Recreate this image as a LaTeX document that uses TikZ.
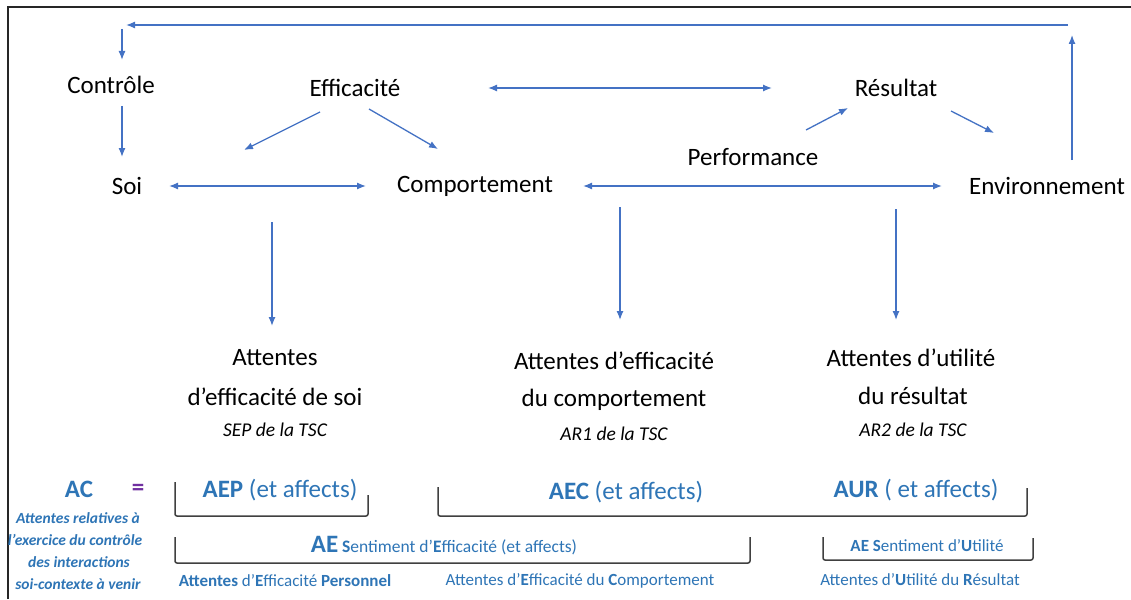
\documentclass[tikz,border=0pt]{standalone}
\usepackage{fontspec}
\setmainfont{Carlito}
\usetikzlibrary{arrows.meta}
\definecolor{arrowblue}{HTML}{4472C4}
\definecolor{txtblue}{HTML}{2E75B6}
\definecolor{eqpurple}{HTML}{7030A0}
\definecolor{brkgray}{HTML}{404040}
\begin{document}
\begin{tikzpicture}[x=1pt,y=-1pt,
  lbl/.style={inner sep=0pt, text=black, font=\fontsize{25}{30}\selectfont},
  sub/.style={inner sep=0pt, text=black, font=\fontsize{19.5}{23}\selectfont\itshape},
  arr/.style={draw=arrowblue, line width=1.3pt, -{Latex[length=9pt,width=7pt]}},
  darr/.style={draw=arrowblue, line width=1.3pt, {Latex[length=9pt,width=7pt]}-{Latex[length=9pt,width=7pt]}},
  brk/.style={draw=brkgray, line width=1.5pt, rounded corners=2pt},
  big/.style={inner sep=0pt, text=txtblue, font=\fontsize{25}{30}\selectfont},
  small/.style={inner sep=0pt, text=txtblue, font=\fontsize{17}{20}\selectfont},
  acdesc/.style={inner sep=0pt, text=txtblue, font=\fontsize{15.5}{18}\selectfont\bfseries\itshape},
]
\useasboundingbox (0,0) rectangle (1131,599);
\fill[white] (0,0) rectangle (1131,599);
\draw[black!85, line width=2pt] (7.5,599) -- (7.5,7) -- (1131,7);

% top nodes
\node[lbl] (ctrl) at (111,85) {Contrôle};
\node[lbl] (eff)  at (355,88) {Efficacité};
\node[lbl] (res)  at (896,88) {Résultat};
\node[lbl] (perf) at (753,157) {Performance};
\node[lbl] (soi)  at (127,186) {Soi};
\node[lbl] (comp) at (475,186) {Comportement};
\node[lbl] (env)  at (1047,186) {Environnement};

% attentes blocks
\node[lbl] (a1l1) at (275,358) {Attentes};
\node[lbl] (a1l2) at (275,397) {d’efficacité de soi};
\node[sub] (a1l3) at (275,430) {SEP de la TSC};
\node[lbl] (a2l1) at (614,361) {Attentes d’efficacité};
\node[lbl] (a2l2) at (614,400) {du comportement};
\node[sub] (a2l3) at (614,434) {AR1 de la TSC};
\node[lbl] (a3l1) at (911,358) {Attentes d’utilité};
\node[lbl] (a3l2) at (913,396) {du résultat};
\node[sub] (a3l3) at (913,430) {AR2 de la TSC};

% coordinates for free arrow ends
\coordinate (fbR) at (1068,25);
\coordinate (fbL) at (126,25);
\coordinate (fbD1) at (122,29);
\coordinate (fbD2) at (122,60);
\coordinate (cs1) at (122,106);
\coordinate (cs2) at (122,157);
\coordinate (el1) at (320,112);
\coordinate (el2) at (244,150);
\coordinate (er1) at (369,109);
\coordinate (er2) at (438,149);
\coordinate (er3) at (488,88);
\coordinate (er4) at (772,88);
\coordinate (pr1) at (806,130);
\coordinate (pr2) at (848,108);
\coordinate (re1) at (951,111);
\coordinate (re2) at (994,133);
\coordinate (eu1) at (1072,160);
\coordinate (eu2) at (1072,35);
\coordinate (sc1) at (169,186);
\coordinate (sc2) at (366,186);
\coordinate (ce1) at (583,186);
\coordinate (ce2) at (942,186);
\coordinate (d1a) at (272,222);
\coordinate (d1b) at (272,326);
\coordinate (d2a) at (620,207);
\coordinate (d2b) at (620,320);
\coordinate (d3a) at (896,209);
\coordinate (d3b) at (896,320);

\draw[arr] (fbR) -- (fbL);
\draw[arr] (fbD1) -- (fbD2);
\draw[arr] (cs1) -- (cs2);
\draw[arr] (el1) -- (el2);
\draw[arr] (er1) -- (er2);
\draw[darr] (er3) -- (er4);
\draw[arr] (pr1) -- (pr2);
\draw[arr] (re1) -- (re2);
\draw[arr] (eu1) -- (eu2);
\draw[darr] (sc1) -- (sc2);
\draw[darr] (ce1) -- (ce2);
\draw[arr] (d1a) -- (d1b);
\draw[arr] (d2a) -- (d2b);
\draw[arr] (d3a) -- (d3b);

% bottom section
\node[big, font=\fontsize{25}{30}\selectfont\bfseries] (ac) at (79,489) {AC};
\node[inner sep=0pt, text=eqpurple, font=\fontsize{25}{30}\selectfont\bfseries] (eq) at (138,490) {=};
\node[acdesc] (acd1) at (78,518) {Attentes relatives à};
\node[acdesc] (acd2) at (75,540) {l’exercice du contrôle};
\node[acdesc] (acd3) at (79,562) {des interactions};
\node[acdesc] (acd4) at (78,584) {soi-contexte à venir};

\node[big] (aep) at (280,490) {\textbf{AEP} (et affects)};
\node[big] (aec) at (626,492) {\textbf{AEC} (et affects)};
\node[big] (aur) at (916,490) {\textbf{AUR} ( et affects)};

\draw[brk] (175,482) -- (175,516) -- (368,516) -- (368,495);
\draw[brk] (438,487) -- (438,516) -- (1027,516) -- (1027,488);
\draw[brk] (175,537) -- (175,563) -- (750,563) -- (750,537);
\draw[brk] (823,537) -- (823,560) -- (1033,560) -- (1033,538);

\node[small, anchor=base] (aeline) at (444,552) {{\fontsize{25}{30}\selectfont\bfseries AE} \fontsize{17.5}{20}\selectfont\textbf{S}entiment d’\textbf{E}fficacité (et affects)};
\node[small] (aeutil) at (927,546) {\textbf{AE S}entiment d’\textbf{U}tilité};

\node[small] (lab1) at (285,581) {\textbf{Attentes} d’\textbf{E}fficacité \textbf{Personnel}};
\node[small] (lab2) at (580,581) {Attentes d’\textbf{E}fficacité du \textbf{C}omportement};
\node[small] (lab3) at (920,580) {Attentes d’\textbf{U}tilité du \textbf{R}ésultat};
\end{tikzpicture}
\end{document}
